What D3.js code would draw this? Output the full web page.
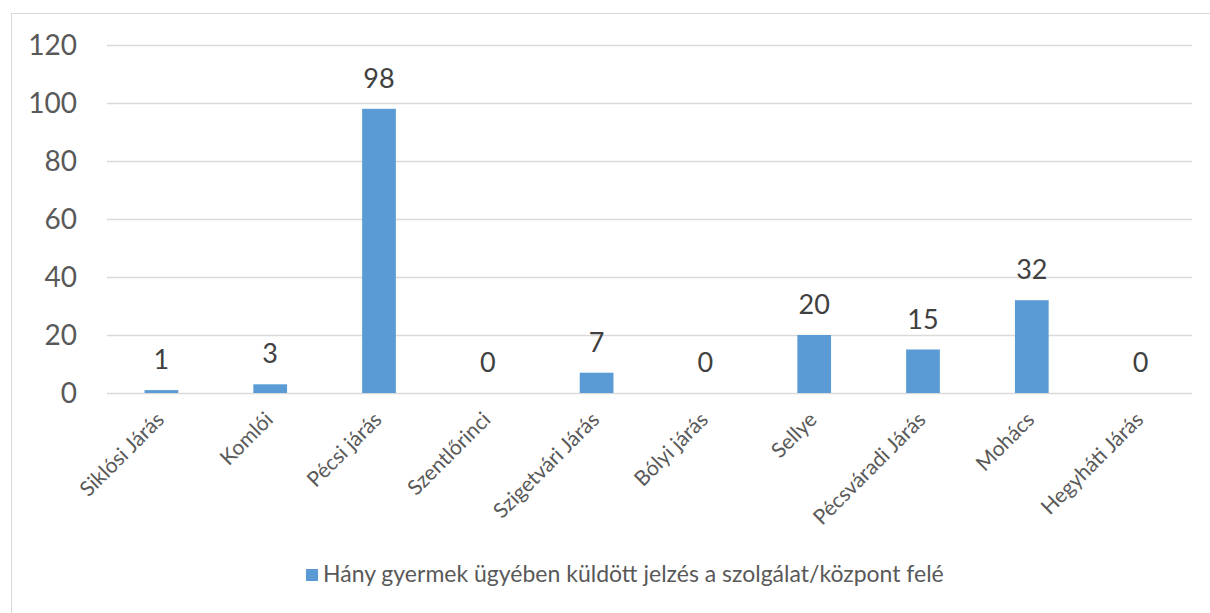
<!DOCTYPE html>
<html>
<head>
<meta charset="utf-8">
<script src="https://cdn.jsdelivr.net/npm/d3@7"></script>
<style>
  body { margin: 0; background: #fff; }
  svg { display: block; font-family: Lato, "Open Sans", sans-serif; }
</style>
</head>
<body>
<div id="chart"></div>
<script>
const categories = ["Siklósi Járás", "Komlói", "Pécsi járás", "Szentlőrinci", "Szigetvári Járás",
  "Bólyi járás", "Sellye", "Pécsváradi Járás", "Mohács", "Hegyháti Járás"];
const values = [1, 3, 98, 0, 7, 0, 20, 15, 32, 0];
const yTicks = [0, 20, 40, 60, 80, 100, 120];
const seriesName = "Hány gyermek ügyében küldött jelzés a szolgálat/központ felé";

const width = 1210, height = 613;
const margin = { top: 45, right: 15, bottom: 220, left: 107 };

const svg = d3.select("#chart").append("svg")
  .attr("width", width)
  .attr("height", height);

svg.append("rect")
  .attr("x", 11.5).attr("y", 13.5)
  .attr("width", width).attr("height", height)
  .attr("fill", "#fff")
  .attr("stroke", "#d9d9d9");

const x = d3.scaleBand()
  .domain(categories)
  .range([margin.left, width - margin.right])
  .paddingInner(0.69)
  .paddingOuter(0.345);

const y = d3.scaleLinear()
  .domain([0, 120])
  .range([height - margin.bottom, margin.top]);

// gridlines
svg.append("g")
  .selectAll("line")
  .data(yTicks)
  .enter().append("line")
  .attr("x1", margin.left)
  .attr("x2", width - margin.right - 3)
  .attr("y1", d => Math.round(y(d)) + 0.5)
  .attr("y2", d => Math.round(y(d)) + 0.5)
  .attr("stroke", "#d9d9d9")
  .attr("stroke-width", 1.5);

// y labels
svg.append("g")
  .selectAll("text")
  .data(yTicks)
  .enter().append("text")
  .attr("x", 77)
  .attr("y", d => y(d) + 10)
  .attr("text-anchor", "end")
  .attr("font-size", "28px")
  .attr("fill", "#595959")
  .text(d => d);

// bars
svg.append("g")
  .selectAll("rect")
  .data(values)
  .enter().append("rect")
  .attr("x", (d, i) => x(categories[i]))
  .attr("y", d => y(d))
  .attr("width", x.bandwidth())
  .attr("height", d => y(0) - y(d))
  .attr("fill", "#5b9bd5");

// data labels
svg.append("g")
  .selectAll("text")
  .data(values)
  .enter().append("text")
  .attr("x", (d, i) => x(categories[i]) + x.bandwidth() / 2)
  .attr("y", d => y(d) - 21)
  .attr("text-anchor", "middle")
  .attr("font-size", "27px")
  .attr("fill", "#404040")
  .text(d => d);

// x labels
svg.append("g")
  .selectAll("text")
  .data(categories)
  .enter().append("text")
  .attr("transform", d => `translate(${x(d) + x.bandwidth() / 2 + 4},${y(0) + 28}) rotate(-45)`)
  .attr("text-anchor", "end")
  .attr("font-size", "21px")
  .attr("fill", "#595959")
  .text(d => d);

// legend
const legend = svg.append("g").attr("transform", "translate(306,569)");
legend.append("rect")
  .attr("width", 12).attr("height", 12)
  .attr("fill", "#5b9bd5");
legend.append("text")
  .attr("x", 17).attr("y", 13)
  .attr("font-size", "23px")
  .attr("fill", "#595959")
  .text(seriesName);
</script>
</body>
</html>
